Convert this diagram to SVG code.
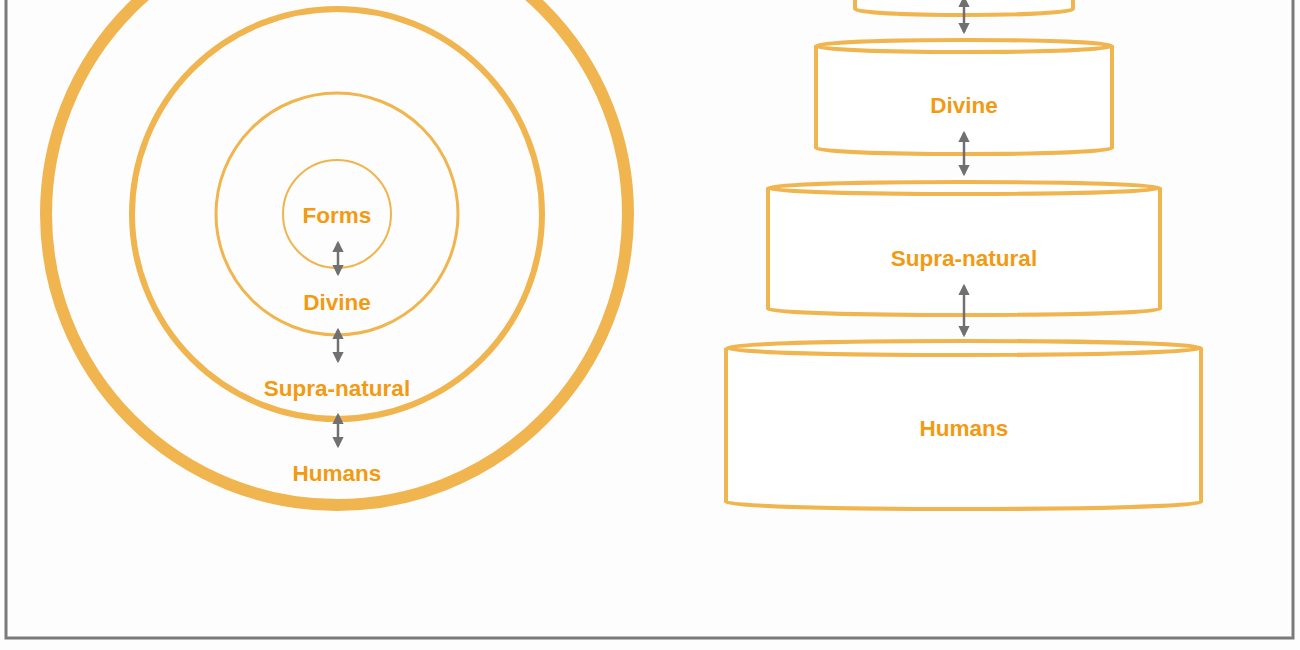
<svg xmlns="http://www.w3.org/2000/svg" width="1300" height="650" viewBox="0 0 1300 650">
<style>
.o{fill:none;stroke:#F0B54E}
.t{font-family:"Liberation Sans",Arial,sans-serif;font-weight:bold;font-size:22.5px;fill:#F39A12;text-anchor:middle}
.a{stroke:#707070;stroke-width:2.5;marker-start:url(#h);marker-end:url(#h)}
.c{fill:#fff;stroke:#F0B54E;stroke-width:4}
</style>
<defs><marker id="h" viewBox="0 0 10 10" refX="8" refY="5" markerWidth="4.5" markerHeight="4.5" orient="auto-start-reverse"><path d="M0,0 L10,5 L0,10 z" fill="#707070"/></marker></defs>
<rect x="0" y="0" width="1300" height="650" fill="#fdfdfd"/>
<rect x="6" y="-10" width="1287" height="648" fill="none" stroke="#7a7a7a" stroke-width="3"/>
<g id="outer"><circle class="o" cx="337" cy="214" r="291" stroke-width="12"/></g>
<g id="supra-c"><circle class="o" cx="337" cy="214" r="205" stroke-width="6"/></g>
<g id="divine-c"><circle class="o" cx="337" cy="214" r="121" stroke-width="3"/></g>
<g id="forms-c"><circle class="o" cx="337" cy="214" r="54" stroke-width="2"/></g>
<text class="t" x="337" y="223">Forms</text>
<text class="t" x="337" y="310">Divine</text>
<text class="t" x="337" y="396">Supra-natural</text>
<text class="t" x="337" y="481">Humans</text>
<g id="cyl-top"><path class="c" d="M855,-20 L855,9 A109 6 0 0 0 1073,9 L1073,-20"/></g>
<g id="cyl-divine"><path class="c" d="M816,46 L816,148 A148 6 0 0 0 1112,148 L1112,46"/><ellipse class="c" cx="964" cy="46" rx="148" ry="6"/><text class="t" x="964" y="113">Divine</text></g>
<g id="cyl-supra"><path class="c" d="M768,188 L768,309 A196 6 0 0 0 1160,309 L1160,188"/><ellipse class="c" cx="964" cy="188" rx="196" ry="6"/><text class="t" x="964" y="266">Supra-natural</text></g>
<g id="cyl-humans"><path class="c" d="M726,348 L726,502 A237 7 0 0 0 1201,502 L1201,348"/><ellipse class="c" cx="964" cy="348" rx="237" ry="7"/><text class="t" x="964" y="436">Humans</text></g>
<g id="connectors">
<line class="a" x1="338" y1="243" x2="338" y2="274"/>
<line class="a" x1="338" y1="330" x2="338" y2="361"/>
<line class="a" x1="338" y1="415" x2="338" y2="446"/>
<line class="a" x1="964" y1="-2" x2="964" y2="32"/>
<line class="a" x1="964" y1="133" x2="964" y2="174"/>
<line class="a" x1="964" y1="286" x2="964" y2="335" stroke-width="3"/>
</g>
</svg>
